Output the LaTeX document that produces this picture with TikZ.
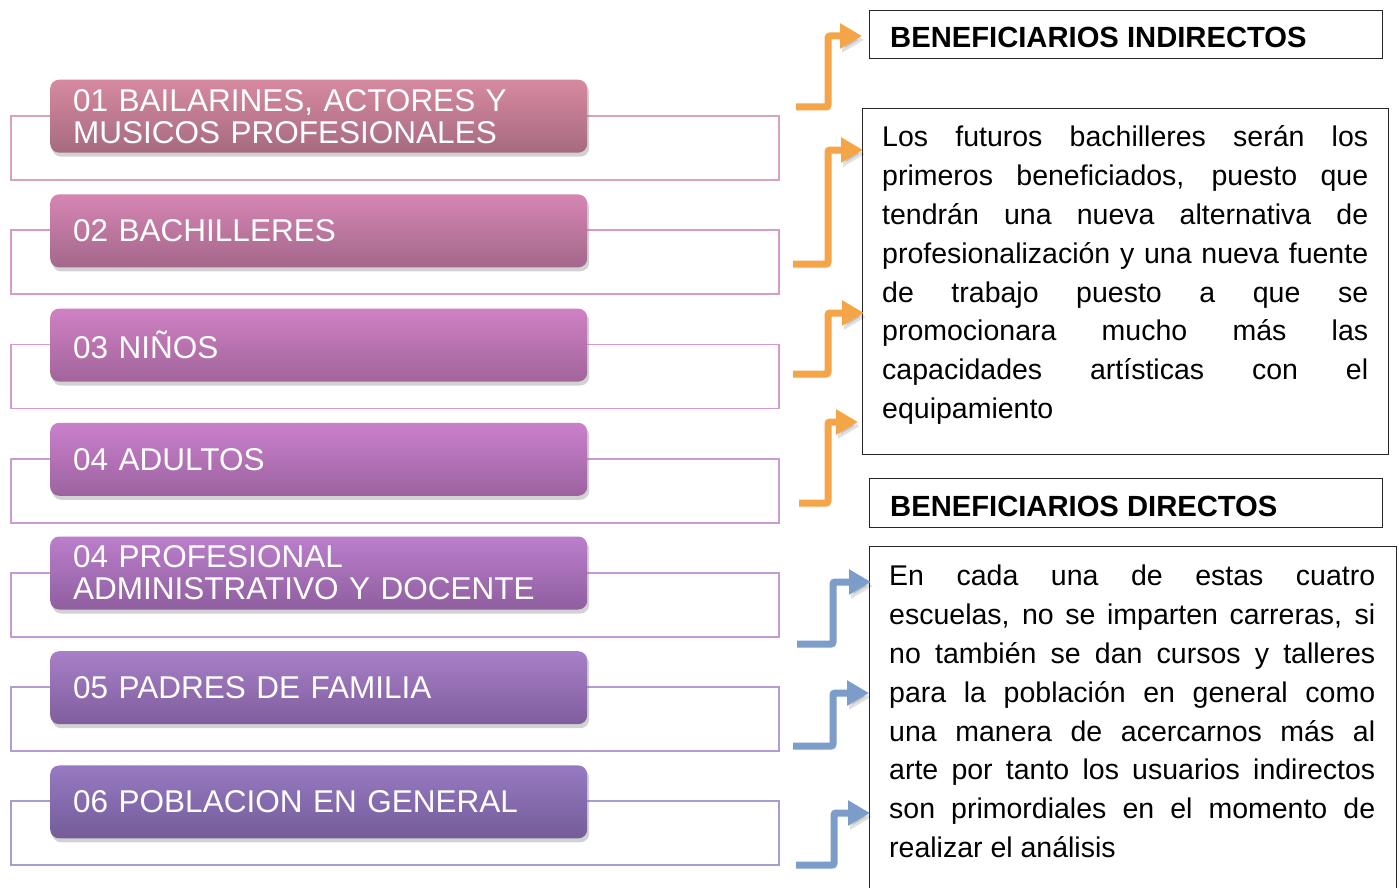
\documentclass[tikz,border=0pt]{standalone}
\usepackage{fontspec}
\setmainfont{Liberation Sans}
\usetikzlibrary{arrows.meta,shadows}
\definecolor{t1}{HTML}{D68AA0}\definecolor{b1}{HTML}{A66A80}\definecolor{o1}{HTML}{D9A3B6}
\definecolor{t2}{HTML}{D586B2}\definecolor{b2}{HTML}{A4678C}\definecolor{o2}{HTML}{D69CC2}
\definecolor{t3}{HTML}{D081C4}\definecolor{b3}{HTML}{A1649A}\definecolor{o3}{HTML}{D39BD0}
\definecolor{t4}{HTML}{CA80CC}\definecolor{b4}{HTML}{9C63A0}\definecolor{o4}{HTML}{CD9AD6}
\definecolor{t5}{HTML}{BB7ECB}\definecolor{b5}{HTML}{8F5F9F}\definecolor{o5}{HTML}{C19AD6}
\definecolor{t6}{HTML}{A87FC8}\definecolor{b6}{HTML}{7F5E9C}\definecolor{o6}{HTML}{B59BD4}
\definecolor{t7}{HTML}{977AC3}\definecolor{b7}{HTML}{735C98}\definecolor{o7}{HTML}{AA9BD0}
\definecolor{arrorange}{HTML}{F4A548}
\definecolor{arrblue}{HTML}{7C9DC9}
\tikzset{
  bar/.style={rounded corners=9pt, minimum width=537pt, minimum height=73pt,
    anchor=north west, inner xsep=23pt, inner ysep=0pt, text width=491pt, align=left,
    text=white, font=\fontsize{31.5}{32}\selectfont,
    drop shadow={opacity=0.35, shadow xshift=2pt, shadow yshift=-4pt}},
  outl/.style={line width=1.8pt},
  boxstyle/.style={draw=black!85, line width=1.4pt, anchor=north west, inner sep=0pt},
  titlestyle/.style={anchor=base west, inner sep=0pt, font=\fontsize{29.2}{29}\selectfont\bfseries},
  parastyle/.style={anchor=north west, inner sep=0pt, align=left, font=\fontsize{28.5}{38.8}\selectfont},
  arr/.style={line width=7pt, rounded corners=2pt, -{Triangle[width=24pt,length=22pt]},
    preaction={draw, black, opacity=0.12, transform canvas={shift={(2pt,-4pt)}}}},
}
\newcommand{\jl}[1]{\makebox[486pt][s]{#1}}
\begin{document}
\begin{tikzpicture}[x=1pt,y=-1pt]
\clip (0,0) rectangle (1399,888);
\fill[white] (0,0) rectangle (1399,888);

% outline rectangles and bars
\draw[outl, o1] (11,116) rectangle (779,180);
\node[bar, top color=t1, bottom color=b1] (r1) at (50,79.5) {01 BAILARINES, ACTORES Y\\MUSICOS PROFESIONALES};
\draw[outl, o2] (11,230.2) rectangle (779,294.2);
\node[bar, top color=t2, bottom color=b2] (r2) at (50,194.2) {02 BACHILLERES};
\draw[outl, o3] (11,344.4) rectangle (779,408.4);
\node[bar, top color=t3, bottom color=b3] (r3) at (50,308.4) {03 NIÑOS};
\draw[outl, o4] (11,458.6) rectangle (779,522.6);
\node[bar, top color=t4, bottom color=b4] (r4) at (50,422.6) {04 ADULTOS};
\draw[outl, o5] (11,572.8) rectangle (779,636.8);
\node[bar, top color=t5, bottom color=b5] (r5) at (50,536.3) {04 PROFESIONAL\\ADMINISTRATIVO Y DOCENTE};
\draw[outl, o6] (11,687) rectangle (779,751);
\node[bar, top color=t6, bottom color=b6] (r6) at (50,651) {05 PADRES DE FAMILIA};
\draw[outl, o7] (11,801.2) rectangle (779,865.2);
\node[bar, top color=t7, bottom color=b7] (r7) at (50,765.2) {06 POBLACION EN GENERAL};

% right boxes
\node[boxstyle, minimum width=513pt, minimum height=48pt] (boxA) at (869,10) {};
\node[titlestyle] (titA) at (890,47.5) {BENEFICIARIOS INDIRECTOS};
\node[boxstyle, minimum width=526pt, minimum height=346pt] (boxB) at (862,108) {};
\node[parastyle] (parB) at (882,119.5) {\strut\jl{Los futuros bachilleres serán los}\\
\jl{primeros beneficiados, puesto que}\\
\jl{tendrán una nueva alternativa de}\\
\jl{profesionalización y una nueva fuente}\\
\jl{de trabajo puesto a que se}\\
\jl{promocionara mucho más las}\\
\jl{capacidades artísticas con el}\\
equipamiento};
\node[boxstyle, minimum width=513pt, minimum height=49pt] (boxC) at (869,478) {};
\node[titlestyle] (titC) at (890,516) {BENEFICIARIOS DIRECTOS};
\node[boxstyle, minimum width=527pt, minimum height=360pt] (boxD) at (869,546) {};
\node[parastyle] (parD) at (889,558.5) {\strut\jl{En cada una de estas cuatro}\\
\jl{escuelas, no se imparten carreras, si}\\
\jl{no también se dan cursos y talleres}\\
\jl{para la población en general como}\\
\jl{una manera de acercarnos más al}\\
\jl{arte por tanto los usuarios indirectos}\\
\jl{son primordiales en el momento de}\\
realizar el análisis};

% orange arrows
\coordinate (oa1s) at (796,107); \coordinate (oa1e) at (862,36);
\coordinate (oa2s) at (793,264); \coordinate (oa2e) at (863,150);
\coordinate (oa3s) at (793,374); \coordinate (oa3e) at (864,313);
\coordinate (oa4s) at (799,503); \coordinate (oa4e) at (858,422);
\draw[arr, arrorange] (oa1s) -| (828,36) -- (oa1e);
\draw[arr, arrorange] (oa2s) -| (828,150) -- (oa2e);
\draw[arr, arrorange] (oa3s) -| (828,313) -- (oa3e);
\draw[arr, arrorange] (oa4s) -| (828,422) -- (oa4e);

% blue arrows
\coordinate (ba1s) at (797,644); \coordinate (ba1e) at (871,582);
\coordinate (ba2s) at (793,746); \coordinate (ba2e) at (869,693);
\coordinate (ba3s) at (796,865); \coordinate (ba3e) at (870,813);
\draw[arr, arrblue] (ba1s) -| (833,582) -- (ba1e);
\draw[arr, arrblue] (ba2s) -| (833,693) -- (ba2e);
\draw[arr, arrblue] (ba3s) -| (834,813) -- (ba3e);
\end{tikzpicture}
\end{document}
